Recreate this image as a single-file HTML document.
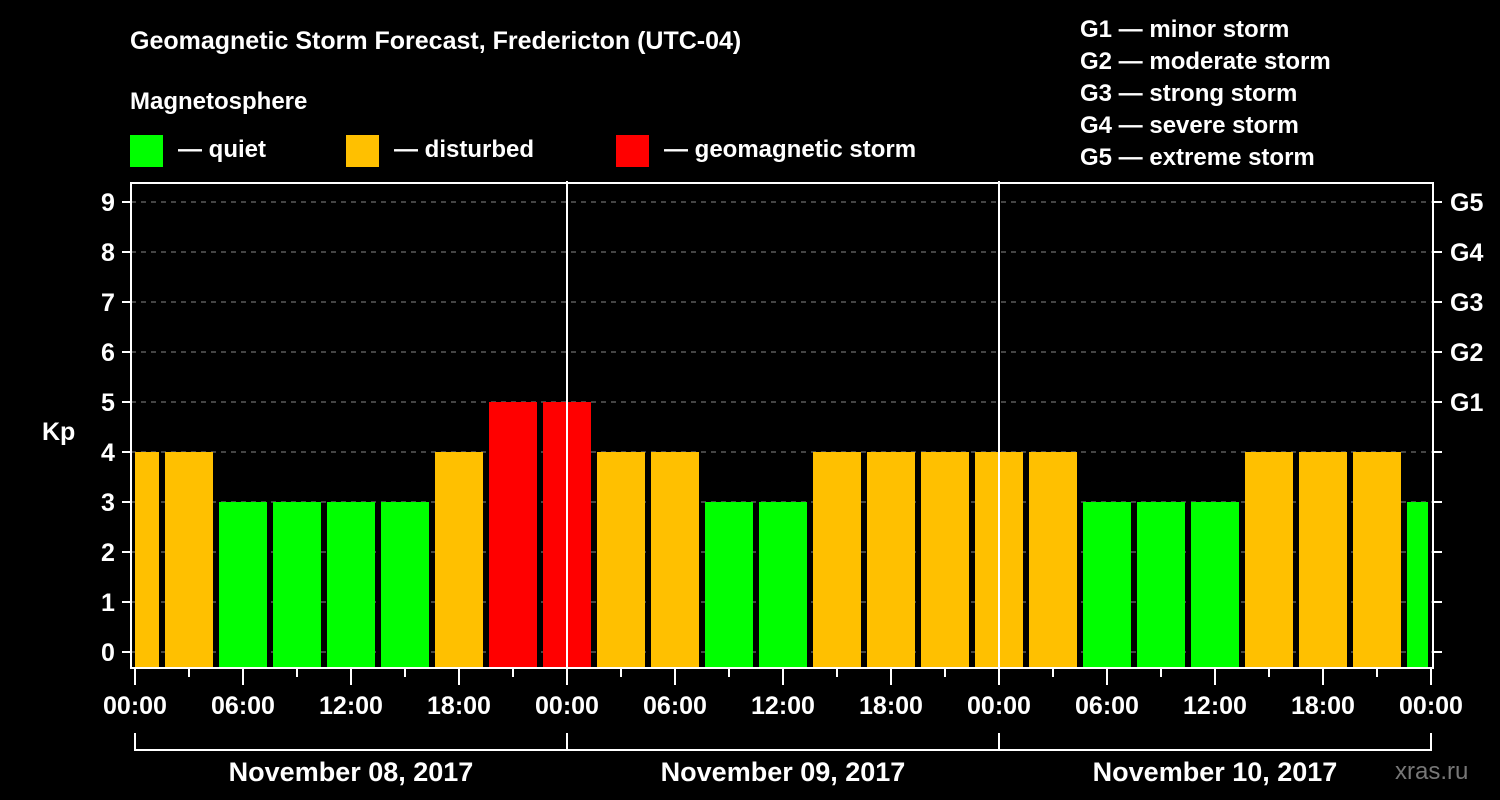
<!DOCTYPE html>
<html><head><meta charset="utf-8">
<style>
html,body{margin:0;padding:0;background:#000;}
svg{display:block;font-family:"Liberation Sans",sans-serif;font-weight:bold;}
</style></head>
<body>
<svg id="chart" width="1500" height="800" viewBox="0 0 1500 800">
  <rect x="0" y="0" width="1500" height="800" fill="#000"/>
  <text x="130" y="49" fill="#fff" font-size="25">Geomagnetic Storm Forecast, Fredericton (UTC-04)</text>
  <text x="130" y="109" fill="#fff" font-size="24">Magnetosphere</text>
  <g>
    <rect x="130" y="135" width="33" height="32" fill="#00ff00"/>
    <text x="178" y="157" fill="#fff" font-size="24">— quiet</text>
  </g>
  <g>
    <rect x="346" y="135" width="33" height="32" fill="#ffc000"/>
    <text x="394" y="157" fill="#fff" font-size="24">— disturbed</text>
  </g>
  <g>
    <rect x="616" y="135" width="33" height="32" fill="#ff0000"/>
    <text x="664" y="157" fill="#fff" font-size="24">— geomagnetic storm</text>
  </g>
  <g fill="#fff" font-size="24">
    <text x="1080" y="37">G1 — minor storm</text>
    <text x="1080" y="69">G2 — moderate storm</text>
    <text x="1080" y="101">G3 — strong storm</text>
    <text x="1080" y="133">G4 — severe storm</text>
    <text x="1080" y="165">G5 — extreme storm</text>
  </g>
  <text x="42" y="440" fill="#fff" font-size="25">Kp</text>
  <text x="1395" y="779" fill="#777" font-size="24" font-weight="normal">xras.ru</text>
  <g id="grid"></g>
  <g id="bars"></g>
  <g id="axes"></g>
</svg>
<script>
const kpValues = [4,4,3,3,3,3,4,5,5,4,4,3,3,4,4,4,4,4,3,3,3,4,4,4,3];
const yTicks = [0,1,2,3,4,5,6,7,8,9];
const gLabels = ["G1","G2","G3","G4","G5"];
const gLevels = [5,6,7,8,9];
const hourLabels = ["00:00","06:00","12:00","18:00"];
const dayLabels = ["November 08, 2017","November 09, 2017","November 10, 2017"];

const NS="http://www.w3.org/2000/svg";
const L=131,R=1433,T=183,B=668,X0=135,DAY=432;
const yS=v=>652-50*v;
const xH=h=>X0+h*DAY/24;
function mk(tag,attrs,parent){const e=document.createElementNS(NS,tag);for(const k in attrs)e.setAttribute(k,attrs[k]);parent.appendChild(e);return e;}
const grid=document.getElementById('grid'),bars=document.getElementById('bars'),axes=document.getElementById('axes');

yTicks.forEach(v=>{
  const g=mk('line',{x1:L,x2:R,y1:yS(v),y2:yS(v),stroke:'#888','stroke-width':1,'stroke-dasharray':'5,5'},grid);
  
  
});

function color(v){return v>=5?'#ff0000':(v>=4?'#ffc000':'#00ff00');}
kpValues.forEach((v,i)=>{
  let x1=xH(i*3-1.5)+3, x2=x1+48;
  x1=Math.max(x1,X0); x2=Math.min(x2,1428);
  const r=mk('rect',{x:x1,y:yS(v),width:x2-x1,height:B-yS(v),fill:color(v)},bars);
  
  
});

const frame=mk('rect',{x:L,y:T,width:R-L,height:B-T,fill:'none',stroke:'#fff','stroke-width':2},axes);



[1,2].forEach(d=>{
  const l=mk('line',{x1:xH(d*24),x2:xH(d*24),y1:T-2,y2:B,stroke:'#fff','stroke-width':2},axes);
  
  
});

yTicks.forEach(v=>{
  mk('line',{x1:122,x2:L,y1:yS(v),y2:yS(v),stroke:'#fff','stroke-width':2},axes);
  mk('line',{x1:R,x2:1442,y1:yS(v),y2:yS(v),stroke:'#fff','stroke-width':2},axes);
  const t=mk('text',{x:108,y:yS(v)+9,fill:'#fff','font-size':25,'text-anchor':'middle'},axes);
  t.textContent=v;
  
  
});
gLevels.forEach((v,i)=>{
  const t=mk('text',{x:1450,y:yS(v)+9,fill:'#fff','font-size':25},axes);
  t.textContent=gLabels[i];
  
  
});

for(let h=0;h<=72;h+=3){
  const long=h%6===0;
  mk('line',{x1:xH(h),x2:xH(h),y1:B,y2:long?685:677,stroke:'#fff','stroke-width':2},axes);
  if(long){
    const t=mk('text',{x:xH(h),y:714,fill:'#fff','font-size':25,'text-anchor':'middle'},axes);
    t.textContent=h===72?hourLabels[0]:hourLabels[(h/6)%4];
    
    
  }
}
mk('line',{x1:xH(0),x2:xH(72),y1:750,y2:750,stroke:'#fff','stroke-width':2},axes);
for(let d=0;d<=3;d++){
  mk('line',{x1:xH(d*24),x2:xH(d*24),y1:733,y2:751,stroke:'#fff','stroke-width':2},axes);
}
dayLabels.forEach((s,d)=>{
  const t=mk('text',{x:xH(d*24+12),y:781,fill:'#fff','font-size':27,'text-anchor':'middle'},axes);
  t.textContent=s;
  
  
});
</script>
</body></html>
